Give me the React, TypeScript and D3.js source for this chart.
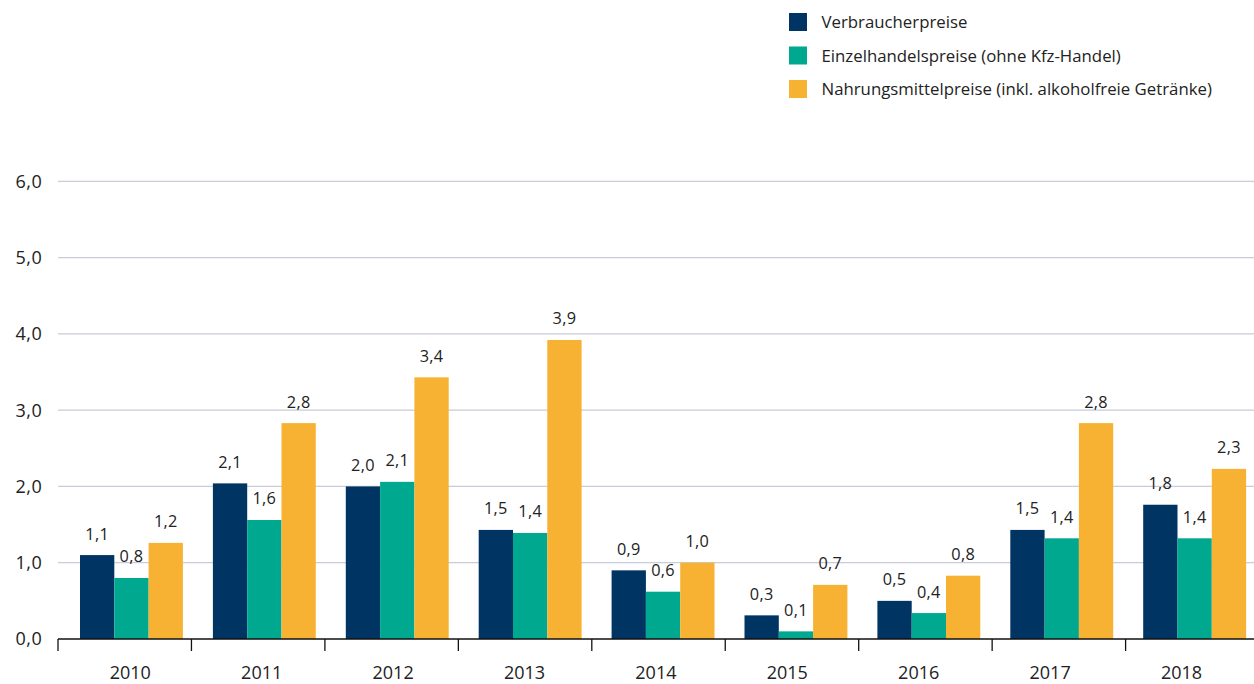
import React from "react";
import * as d3 from "d3";

const years = ["2010", "2011", "2012", "2013", "2014", "2015", "2016", "2017", "2018"];
const seriesNames = [
  "Verbraucherpreise",
  "Einzelhandelspreise (ohne Kfz-Handel)",
  "Nahrungsmittelpreise (inkl. alkoholfreie Getränke)",
];
const verbraucher = [1.1, 2.04, 2.0, 1.43, 0.9, 0.31, 0.5, 1.43, 1.76];
const einzelhandel = [0.8, 1.56, 2.06, 1.39, 0.62, 0.1, 0.34, 1.32, 1.32];
const nahrung = [1.26, 2.83, 3.43, 3.92, 1.0, 0.71, 0.83, 2.83, 2.23];
const verbraucherLabels = ["1,1", "2,1", "2,0", "1,5", "0,9", "0,3", "0,5", "1,5", "1,8"];
const einzelhandelLabels = ["0,8", "1,6", "2,1", "1,4", "0,6", "0,1", "0,4", "1,4", "1,4"];
const nahrungLabels = ["1,2", "2,8", "3,4", "3,9", "1,0", "0,7", "0,8", "2,8", "2,3"];
const yTicks = [0, 1, 2, 3, 4, 5, 6];
const colors = ["#003463", "#00a890", "#f7b233"];

const W = 1254;
const H = 684;
const FONT = "'Open Sans', 'Noto Sans', sans-serif";

export default function App() {
  // axis tick bands
  const x = d3.scaleBand<string>().domain(years).range([58, 58 + 9 * 133.45]).padding(0);
  // bar group bands
  const xBars = d3.scaleBand<string>().domain(years).range([65, 65 + 9 * 132.9]).padding(0);
  // year label bands
  const xLab = d3.scaleBand<string>().domain(years).range([64.6, 64.6 + 9 * 131.4]).padding(0);
  const y = d3.scaleLinear().domain([0, 6]).range([639, 181.3]);
  const series = [verbraucher, einzelhandel, nahrung];
  const labels = [verbraucherLabels, einzelhandelLabels, nahrungLabels];
  const barW = 34.3;
  const groupOffset = (xBars.bandwidth() - barW * 3) / 2;
  const fmt = (v: number) => d3.format(".1f")(v).replace(".", ",");

  return (
    <div style={{ position: "fixed", left: 0, top: 0 }}>
      <svg width={W} height={H} style={{ display: "block" }} fontFamily={FONT}>
        <rect width={W} height={H} fill="#fff" />
        {yTicks.filter((t) => t > 0).map((t) => (
          <line key={t} x1={58} x2={W} y1={y(t)} y2={y(t)} stroke="#c9ccda" strokeWidth={1.2} />
        ))}
        {yTicks.map((t) => (
          <text key={t} x={42.5} y={y(t)} dy="0.36em" textAnchor="end" fontSize={18} letterSpacing={0.6} fill="#222">
            {fmt(t)}
          </text>
        ))}
        {years.map((yr, i) =>
          series.map((s, k) => {
            const bx = (xBars(yr) as number) + groupOffset + k * barW;
            return (
              <g key={yr + k}>
                <rect x={bx} y={y(s[i])} width={barW} height={y(0) - y(s[i])} fill={colors[k]} />
                <text
                  x={bx + barW / 2}
                  y={y(s[i]) - 15.5}
                  textAnchor="middle"
                  fontSize={16.3}
                  letterSpacing={0.3}
                  fill="#222"
                >
                  {labels[k][i]}
                </text>
              </g>
            );
          })
        )}
        <line x1={58} x2={W} y1={639} y2={639} stroke="#111" strokeWidth={1.3} />
        {years.map((yr) => (
          <line key={"t" + yr} x1={x(yr)} x2={x(yr)} y1={639} y2={651} stroke="#111" strokeWidth={1.3} />
        ))}
        {years.map((yr) => (
          <text
            key={"l" + yr}
            x={(xLab(yr) as number) + xLab.bandwidth() / 2}
            y={679}
            textAnchor="middle"
            fontSize={18}
            fill="#222"
          >
            {yr}
          </text>
        ))}
        {seriesNames.map((n, k) => (
          <g key={n} transform={`translate(789, ${13 + k * 33.5})`}>
            <rect width={18} height={18} fill={colors[k]} />
            <text x={32.5} y={9} dy="0.36em" fontSize={16.8} fill="#222">
              {n}
            </text>
          </g>
        ))}
      </svg>
    </div>
  );
}
